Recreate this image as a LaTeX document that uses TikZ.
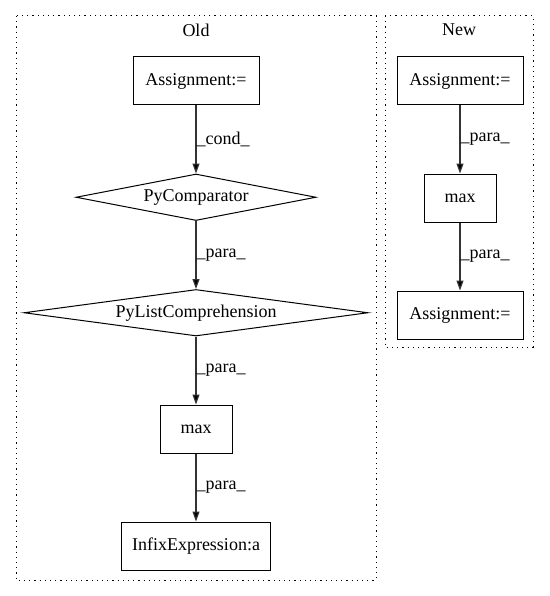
\documentclass[tikz,border=0pt]{standalone}
\usepackage{fontspec}
\setmainfont{Liberation Serif}
\usetikzlibrary{positioning,shapes.geometric,arrows.meta}

\tikzset{
  box/.style={draw, line width=1pt, minimum height=48pt, inner sep=0pt},
  cmpshape/.style={draw, diamond, line width=1pt, minimum height=46.5pt, inner sep=0pt},
  flow/.style={-{Triangle[length=10pt,width=7pt]}, line width=1.2pt, draw=black!80},
  lbl/.style={anchor=west, inner xsep=0pt, font=\fontsize{18}{21}\selectfont},
  cluster/.style={draw, line width=1pt, dash pattern=on 1.2pt off 4pt},
}

\begin{document}
\begin{tikzpicture}[x=1pt, y=1pt, node distance=68pt, font=\fontsize{18}{21}\selectfont]
			\useasboundingbox (0,0) rectangle (549,-596);
			\draw[cluster] (16,-16) rectangle (376,-580);
			\draw[cluster] (385,-16) rectangle (533,-347);
			\node (oldtitle) at (196,-30) {Old};
			\node (newtitle) at (459,-30) {New};
			% old version
			\node (asg) [box, minimum width=126pt] at (196,-81) {Assignment:=};
			\node (cmp) [cmpshape, aspect=5, minimum width=240pt, below=of asg] {PyComparator};
			\node (plc) [cmpshape, aspect=7.2, minimum width=344pt, below=of cmp] {PyListComprehension};
			\node (oldmax) [box, minimum width=72pt, below=of plc] {max};
			\node (infix) [box, minimum width=149pt, below=of oldmax] {InfixExpression:a};
			% new version
			\node (newasg) [box, minimum width=126pt] at (460,-81) {Assignment:=};
			\node (newmax) [box, minimum width=72pt, below=of newasg] {max};
			\node (resasg) [box, minimum width=126pt, below=of newmax] {Assignment:=};
			\path[flow] (asg) edge node[lbl] {\_cond\_} (cmp)
			(cmp) edge node[lbl] {\_para\_} (plc)
			(plc) edge node[lbl] {\_para\_} (oldmax)
			(oldmax) edge node[lbl] {\_para\_} (infix)
			(newasg) edge node[lbl] {\_para\_} (newmax)
			(newmax) edge node[lbl] {\_para\_} (resasg);
		\end{tikzpicture}
\end{document}
